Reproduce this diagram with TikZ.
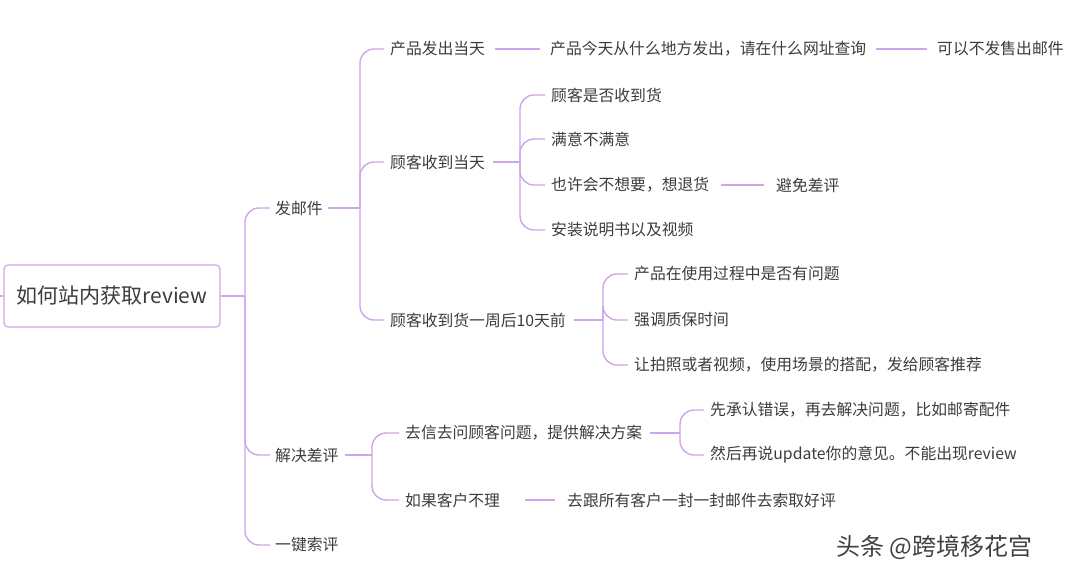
\documentclass[tikz,border=0pt]{standalone}
\usepackage{fontspec}
\setmainfont{Noto Sans CJK SC}
\definecolor{branch}{RGB}{205,165,232}
\definecolor{txt}{RGB}{60,60,60}
\begin{document}
\begin{tikzpicture}[x=1pt,y=-1pt,
            every node/.style = {text=txt, font=\fontsize{15.8}{18}\selectfont, inner sep=0pt, anchor=west},
            link/.style = {draw=branch, line width=1.4pt, rounded corners=14pt},
            root/.style = {draw=branch, line width=1.2pt, rounded corners=4pt, minimum width=216pt, minimum height=62pt, anchor=center, font=\fontsize{21}{24}\selectfont}]
            \useasboundingbox (0,0) rectangle (1080,576);
            % centre topic
            \node[root] (root) at (112,296) {如何站内获取review};
            \draw[link] (0,296) -- (root.west);
            \coordinate (r0) at (245,296);
            \draw[link] (root.east) -- (r0);
            \node (mail) at (275,208) {发邮件};
            \node (fix) at (275,455) {解决差评};
            \node (ask) at (275,545) {一键索评};
            \foreach \n in {mail,fix,ask} \draw[link] (r0) |- ([xshift=-5pt]\n.west);
            % 发邮件
            \node (send) at (390,49) {产品发出当天};
            \node (recv) at (390,162) {顾客收到当天};
            \node (week) at (390,320) {顾客收到货一周后10天前};
            \coordinate (m0) at (360,208);
            \draw[link] (mail.east) ++(5,0) -- (m0);
            \foreach \n in {send,recv,week} \draw[link] (m0) |- ([xshift=-6pt]\n.west);
            \node (where) at (550,49) {产品今天从什么地方发出，请在什么网址查询};
            \node (nomail) at (937,49) {可以不发售出邮件};
            \draw[link] ([xshift=10pt]send.east) -- ([xshift=-10pt]where.west);
            \draw[link] ([xshift=10pt]where.east) -- ([xshift=-10pt]nomail.west);
            % 顾客收到当天
            \node (got) at (551,95) {顾客是否收到货};
            \node (sat) at (551,139) {满意不满意};
            \node (ret) at (551,185) {也许会不想要，想退货};
            \node (inst) at (551,230) {安装说明书以及视频};
            \node (avoid) at (776,185) {避免差评};
            \coordinate (c0) at (520,162);
            \draw[link] ([xshift=8pt]recv.east) -- (c0);
            \foreach \n in {got,sat,ret,inst} \draw[link] (c0) |- ([xshift=-6pt]\n.west);
            \draw[link] ([xshift=12pt]ret.east) -- ([xshift=-12pt]avoid.west);
            % 一周后
            \node (use) at (634,274) {产品在使用过程中是否有问题};
            \node (warr) at (634,320) {强调质保时间};
            \node (photo) at (634,365) {让拍照或者视频，使用场景的搭配，发给顾客推荐};
            \coordinate (w0) at (603,320);
            \draw[link] ([xshift=8pt]week.east) -- (w0);
            \foreach \n in {use,warr,photo} \draw[link] (w0) |- ([xshift=-6pt]\n.west);
            % 解决差评
            \node (letter) at (405,433) {去信去问顾客问题，提供解决方案};
            \node (ignore) at (405,500) {如果客户不理};
            \coordinate (f0) at (372,455);
            \draw[link] ([xshift=6pt]fix.east) -- (f0);
            \foreach \n in {letter,ignore} \draw[link] (f0) |- ([xshift=-6pt]\n.west);
            \node (admit) at (710,410) {先承认错误，再去解决问题，比如邮寄配件};
            \node (update) at (710,455) {然后再说update你的意见。不能出现review};
            \coordinate (l0) at (680,433);
            \draw[link] ([xshift=8pt]letter.east) -- (l0);
            \foreach \n in {admit,update} \draw[link] (l0) |- ([xshift=-6pt]\n.west);
            \node (all) at (567,500) {去跟所有客户一封一封邮件去索取好评};
            \draw[link] ([xshift=25pt]ignore.east) -- ([xshift=-12pt]all.west);
            % watermark
            \node[font=\fontsize{24}{28}\selectfont, text=black!75] (mark) at (836,547) {头条 @跨境移花宫};
\end{tikzpicture}
\end{document}
